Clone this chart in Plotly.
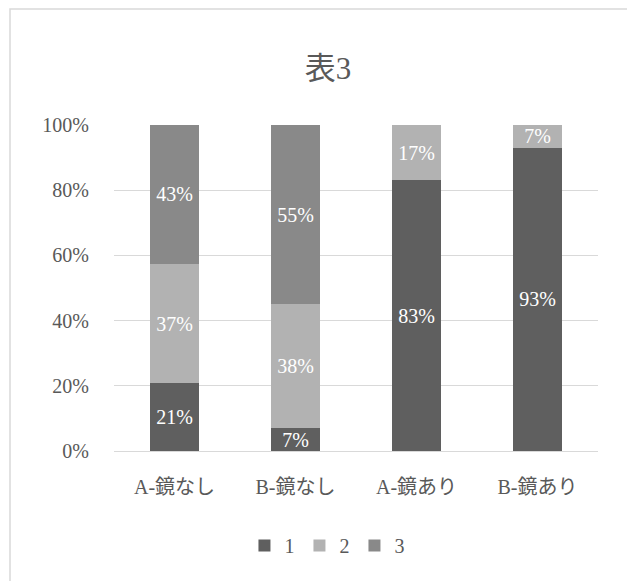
import plotly.graph_objects as go

# Categories and per-series percentages (rounded, as labelled)
categories = ["A-鏡なし", "B-鏡なし", "A-鏡あり", "B-鏡あり"]
series_names = ["1", "2", "3"]
values_1 = [21, 7, 83, 93]
values_2 = [37, 38, 17, 7]
values_3 = [43, 55, None, None]
series_colors = ["#5f5f5f", "#b2b2b2", "#898989"]
y_ticks = [0, 20, 40, 60, 80, 100]

FONT = "Liberation Serif, Noto Sans CJK JP, serif"
TEXT_GREY = "#595959"

fig = go.Figure()
for name, vals, color in zip(series_names, [values_1, values_2, values_3], series_colors):
    fig.add_trace(go.Bar(
        x=categories,
        y=vals,
        name=name,
        marker=dict(color=color, line=dict(width=0)),
        text=["" if v is None else f"{v}%" for v in vals],
        texttemplate="%{text}",
        textposition="inside",
        insidetextanchor="middle",
        textangle=0,
        constraintext="none",
        textfont=dict(family=FONT, size=20, color="white"),
    ))

fig.update_layout(
    barmode="stack",
    barnorm="percent",
    bargap=0.6,
    width=627,
    height=581,
    margin=dict(l=114, r=29, t=125, b=130),
    paper_bgcolor="white",
    plot_bgcolor="white",
    font=dict(family=FONT, size=20, color=TEXT_GREY),
    title=dict(
        text="表3",
        font=dict(family=FONT, size=31, color=TEXT_GREY),
        x=0.523, xanchor="center",
        y=0.883, yanchor="middle",
    ),
    showlegend=True,
    legend=dict(
        orientation="h",
        x=0.44, xanchor="center",
        y=-0.29, yanchor="middle",
        font=dict(family=FONT, size=20, color=TEXT_GREY),
        itemwidth=30,
        traceorder="normal",
    ),
    xaxis=dict(
        showline=True,
        linecolor="#d9d9d9",
        linewidth=1,
        ticks="",
        tickfont=dict(family=FONT, size=20, color=TEXT_GREY),
        ticklabelstandoff=18,
    ),
    yaxis=dict(
        range=[0, 100],
        tickmode="array",
        tickvals=y_ticks,
        ticktext=[f"{t}%" for t in y_ticks],
        showgrid=True,
        gridcolor="#d9d9d9",
        gridwidth=1,
        zeroline=False,
        showline=False,
        ticks="",
        tickfont=dict(family=FONT, size=20, color=TEXT_GREY),
        ticklabelstandoff=24,
    ),
    shapes=[
        # chart frame
        dict(type="rect", xref="paper", yref="paper",
             x0=-104 / 484, x1=640 / 484, y0=-160 / 326, y1=1 + 116 / 326,
             line=dict(color="#d9d9d9", width=1.5), fillcolor="rgba(0,0,0,0)",
             layer="below"),
    ],
)

fig.write_html("out.html")
